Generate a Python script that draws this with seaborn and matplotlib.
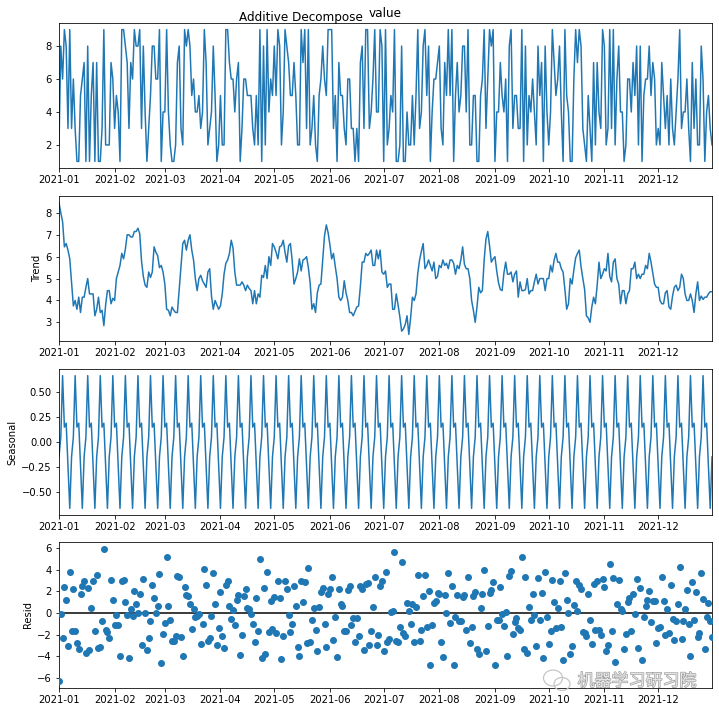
import matplotlib
matplotlib.use("Agg")
import matplotlib.pyplot as plt
import matplotlib.dates as mdates
import matplotlib.patheffects as pe
from matplotlib.patches import Ellipse
import pandas as pd
import seaborn as sns

observed = [
    2,8,6,9,8,3,9,3,6,3, 1,1,5,6,7,1,8,1,5,7, 1,7,1,1,3,9,2,2,2,7, 6,3,5,4,1,9,9,8,7,3,
    7,6,9,8,8,9,3,8,4,1, 3,5,8,8,6,6,9,1,4,4, 9,4,2,1,1,2,7,8,3,2, 9,8,9,8,5,6,4,4,5,3,
    4,9,7,2,3,4,8,5,1,2, 5,2,2,9,9,7,6,6,4,6, 7,1,3,6,6,5,5,5,3,2, 5,2,9,1,8,2,9,4,6,5,
    8,5,9,8,2,4,9,8,7,5, 5,7,5,2,2,9,7,9,3,9, 2,3,5,2,1,5,6,8,6,5, 9,9,9,3,5,1,7,5,5,3,
    2,6,6,3,3,1,3,1,7,8, 3,9,9,3,4,6,9,4,4,9, 8,1,9,2,3,5,4,9,1,1, 2,8,1,1,4,2,2,5,2,5,
    9,3,4,8,9,5,8,1,4,6, 6,7,8,3,2,7,5,9,5,9, 1,5,7,4,5,8,8,4,9,2, 2,5,5,1,1,5,6,9,3,6,
    9,8,9,1,4,4,7,5,4,6, 1,8,9,3,5,5,3,3,9,1, 8,2,5,4,6,4,2,8,5,7, 1,8,4,2,4,9,7,5,6,8,
    4,1,9,5,4,1,1,6,9,7, 9,8,3,2,1,5,3,1,7,2, 7,4,3,9,8,2,3,9,3,9, 2,6,8,4,4,1,2,6,6,4,
    7,5,8,2,8,1,5,6,6,8, 5,7,6,2,3,2,7,5,3,5, 2,6,3,2,4,6,9,3,4,4, 6,3,1,7,3,6,2,2,8,6,
    1,4,5,3,2,
]

trend = [
    8.47,8.0,7.6,6.45,6.6,6.3,5.9,4.8,3.75,4.0, 3.6,4.15,3.45,4.15,4.15,4.6,5.0,4.3,4.3,4.3,
    3.3,3.6,4.15,3.45,3.55,2.85,3.8,4.45,4.45,3.85, 4.1,4.0,5.0,5.3,5.6,6.15,5.9,6.35,7.0,7.0,
    6.9,6.9,7.15,7.15,7.3,7.05,5.8,5.1,4.7,4.6, 5.3,5.05,5.3,6.45,6.2,6.05,5.5,5.6,5.3,4.75,
    3.6,3.55,3.3,3.7,3.55,3.45,3.45,4.5,5.5,6.6, 6.75,6.3,6.75,7.0,6.3,5.85,5.0,4.45,5.0,5.15,
    4.9,4.75,4.6,5.3,5.45,4.2,3.6,4.0,3.8,3.6, 3.75,4.3,5.2,5.7,5.85,6.15,6.75,6.4,5.3,4.7,
    4.7,4.7,4.85,4.7,4.45,4.7,4.55,4.45,3.85,4.45, 3.85,4.3,4.15,5.15,5.05,5.6,5.0,6.0,5.6,6.6,
    6.45,6.2,5.9,6.45,6.5,6.75,6.2,5.75,6.5,6.6, 5.8,4.75,5.0,5.3,5.9,5.35,5.85,5.9,6.0,5.5,
    4.8,3.6,3.85,3.45,4.35,4.7,4.75,5.85,6.95,7.45, 7.1,6.55,5.9,6.15,5.55,5.0,4.15,4.0,4.15,4.9,
    4.35,4.0,3.45,3.45,3.3,3.5,3.7,3.75,4.65,5.75, 5.75,6.15,6.05,6.15,6.3,5.6,5.6,6.3,5.9,6.3,
    5.3,5.2,5.35,4.6,4.75,4.75,3.6,3.6,4.3,3.8, 3.25,2.6,2.7,2.9,3.3,2.45,3.2,4.15,4.0,4.3,
    5.25,5.85,6.25,6.6,5.45,5.6,5.85,5.6,5.35,5.75, 5.0,5.1,5.6,5.5,5.85,5.6,5.7,5.45,5.85,5.85,
    5.7,5.2,5.6,5.45,5.85,6.45,5.65,5.45,5.45,5.0, 4.0,3.55,3.0,3.7,4.6,4.35,4.45,5.85,6.8,7.15,
    6.5,5.75,5.9,6.0,5.35,4.8,4.5,4.45,5.25,5.75, 5.2,5.2,5.3,4.85,5.2,5.35,4.15,4.85,4.45,4.45,
    4.5,5.0,4.3,4.45,4.45,4.85,5.2,4.75,5.0,5.0, 5.0,4.45,5.0,5.0,5.6,5.3,5.85,6.15,5.75,5.75,
    5.45,5.3,4.5,3.6,3.85,5.0,4.75,5.4,5.95,6.15, 6.3,5.55,5.0,4.5,3.3,3.2,3.0,3.7,4.15,3.85,
    4.7,5.75,5.0,5.2,5.45,5.35,6.15,5.1,4.85,5.75, 5.9,5.0,4.75,3.85,4.45,4.45,3.85,4.3,4.45,5.45,
    5.45,5.75,5.0,5.2,5.0,5.2,5.2,5.6,5.45,6.15, 5.75,5.25,4.75,4.6,4.6,4.0,3.85,3.85,4.35,4.45,
    3.7,3.6,4.2,4.6,4.7,4.45,4.6,5.2,5.0,4.3, 4.0,4.0,4.3,4.0,3.45,4.3,4.85,4.0,4.2,4.05,
    4.15,4.15,4.3,4.4,4.4,
]

seasonal = [
    -.15,.05,.67,.15,.19,-.24,-.67, -.15,.05,.67,.15,.19,-.24,-.67, -.15,.05,.67,.15,.19,-.24,-.67,
    -.15,.05,.67,.15,.19,-.24,-.67, -.15,.05,.67,.15,.19,-.24,-.67, -.15,.05,.67,.15,.19,-.24,-.67,
    -.15,.05,.67,.15,.19,-.24,-.67, -.15,.05,.67,.15,.19,-.24,-.67, -.15,.05,.67,.15,.19,-.24,-.67,
    -.15,.05,.67,.15,.19,-.24,-.67, -.15,.05,.67,.15,.19,-.24,-.67, -.15,.05,.67,.15,.19,-.24,-.67,
    -.15,.05,.67,.15,.19,-.24,-.67, -.15,.05,.67,.15,.19,-.24,-.67, -.15,.05,.67,.15,.19,-.24,-.67,
    -.15,.05,.67,.15,.19,-.24,-.67, -.15,.05,.67,.15,.19,-.24,-.67, -.15,.05,.67,.15,.19,-.24,-.67,
    -.15,.05,.67,.15,.19,-.24,-.67, -.15,.05,.67,.15,.19,-.24,-.67, -.15,.05,.67,.15,.19,-.24,-.67,
    -.15,.05,.67,.15,.19,-.24,-.67, -.15,.05,.67,.15,.19,-.24,-.67, -.15,.05,.67,.15,.19,-.24,-.67,
    -.15,.05,.67,.15,.19,-.24,-.67, -.15,.05,.67,.15,.19,-.24,-.67, -.15,.05,.67,.15,.19,-.24,-.67,
    -.15,.05,.67,.15,.19,-.24,-.67, -.15,.05,.67,.15,.19,-.24,-.67, -.15,.05,.67,.15,.19,-.24,-.67,
    -.15,.05,.67,.15,.19,-.24,-.67, -.15,.05,.67,.15,.19,-.24,-.67, -.15,.05,.67,.15,.19,-.24,-.67,
    -.15,.05,.67,.15,.19,-.24,-.67, -.15,.05,.67,.15,.19,-.24,-.67, -.15,.05,.67,.15,.19,-.24,-.67,
    -.15,.05,.67,.15,.19,-.24,-.67, -.15,.05,.67,.15,.19,-.24,-.67, -.15,.05,.67,.15,.19,-.24,-.67,
    -.15,.05,.67,.15,.19,-.24,-.67, -.15,.05,.67,.15,.19,-.24,-.67, -.15,.05,.67,.15,.19,-.24,-.67,
    -.15,.05,.67,.15,.19,-.24,-.67, -.15,.05,.67,.15,.19,-.24,-.67, -.15,.05,.67,.15,.19,-.24,-.67,
    -.15,.05,.67,.15,.19,-.24,-.67, -.15,.05,.67,.15,.19,-.24,-.67, -.15,.05,.67,.15,.19,-.24,-.67,
    -.15,.05,.67,.15,.19,-.24,-.67, -.15,.05,.67,.15,.19,-.24,-.67, -.15,.05,.67,.15,.19,-.24,-.67,
    -.15,.05,.67,.15,.19,-.24,-.67,
    -.15,
]

resid = [
    -6.32,-.05,-2.27,2.4,1.21,-3.06,3.77,-1.65,2.2,-1.67, -2.75,-3.34,1.79,2.52,3.0,-3.65,2.33,-3.45,.51,2.94,
    -1.63,3.55,-3.2,-3.12,-.7,5.96,-1.56,-1.78,-2.3,3.1, 1.23,-1.15,-.19,-1.06,-3.93,3.0,3.05,.98,-.15,-4.19,
    .34,-.23,2.0,.8,.03,1.8,-2.99,3.14,-.03,-3.45, -2.35,-.72,2.55,1.36,.04,.62,3.65,-4.65,-1.97,-.9,
    5.21,.69,-.63,-2.55,-2.6,-2.12,3.4,3.31,-2.26,-3.93, 2.4,1.65,1.58,.85,-1.49,.39,-.33,-.3,-.05,-2.82,
    -1.05,4.06,2.64,-2.63,-2.3,-.25,3.73,.85,-2.99,-1.36, 1.92,-2.15,-3.25,2.63,3.0,.66,-.51,.27,-1.15,1.25,
    1.63,-3.85,-2.04,1.54,2.22,.45,.4,-.12,-1.0,-2.64, 1.39,-1.63,5.0,-4.2,2.28,-3.75,3.81,-1.76,1.07,-1.45,
    1.5,-1.87,2.95,1.36,-4.26,-2.08,2.95,2.2,-.17,-1.75, -.99,2.49,.67,-3.15,-3.95,2.98,1.0,2.91,-2.76,4.17,
    -2.65,-.65,.48,-1.6,-3.54,.54,1.92,2.3,-1.0,-3.12, 1.75,2.26,3.34,-2.48,-.4,-4.05,2.18,.85,.66,-1.66,
    -1.68,2.15,2.5,-1.12,-.45,-2.69,-.46,-2.08,2.5,2.2, -3.42,2.7,2.76,-2.91,-1.63,.55,3.35,-2.97,-2.05,2.51,
    2.94,-3.53,3.8,-2.65,-2.42,.1,.21,5.64,-2.63,-2.65, -1.3,4.73,-1.85,-2.09,.94,.22,-1.05,.8,-2.67,.55,
    3.56,-2.61,-1.58,1.55,3.5,-1.27,2.0,-4.79,-1.11,.92, 1.15,1.85,1.73,-2.65,-4.04,1.64,-.03,3.7,-.9,2.48,
    -4.85,-.39,1.64,-.78,-.7,1.5,1.68,-1.6,3.36,-2.76, -1.33,1.6,1.95,-3.37,-3.75,.46,1.79,4.0,-3.47,-1.2,
    1.83,2.1,2.91,-4.76,-.68,-.65,2.45,-.12,-1.2,.06, -3.96,3.47,3.85,-1.9,-.87,-.5,-1.34,-1.61,5.2,-3.3,
    3.35,-3.67,.55,-.64,1.79,-.18,-3.05,3.2,-.67,1.85, -4.19,3.79,-.33,-2.85,-1.65,3.03,1.0,-1.34,.49,2.92,
    -1.3,-4.35,3.75,1.25,-.04,-3.76,-3.08,.75,3.0,.18, 2.55,2.26,-1.76,-1.83,-2.15,1.75,-.67,-2.85,2.66,-1.61,
    2.97,-1.6,-2.05,3.13,2.4,-3.54,-2.91,4.57,-1.7,3.2, -4.57,.85,3.06,.39,.22,-3.3,-1.9,1.03,1.4,-1.64,
    1.79,-.08,3.15,-3.25,2.33,-4.35,-.39,.64,1.22,2.0, -.8,1.08,1.1,-2.79,-1.36,-1.33,3.3,1.1,-2.02,.4,
    -1.89,2.64,-.53,-2.45,-.75,.88,4.25,-2.39,-.76,.37, 2.15,-1.05,-3.97,2.85,-.64,1.94,-2.18,-1.85,3.75,1.28,
    -3.3,-.34,.94,-.73,-2.25,
]

y_labels = ["", "Trend", "Seasonal", "Resid"]
start_date = "2021-01-01"
end_date = "2021-12-31"

W, H = 719, 712
fig = plt.figure(figsize=(W / 72, H / 72), dpi=72)

panels = [(23, 168), (196, 341), (369, 515), (542, 688)]
axes = [fig.add_axes([59 / W, 1 - b / H, (712 - 59) / W, (b - t) / H]) for t, b in panels]

dates = pd.date_range(start_date, end_date, freq="D")
lengths = (len(observed), len(trend), len(seasonal), len(resid))
if set(lengths) != {365}:
    raise SystemExit(f"lengths {lengths}")
df = pd.DataFrame({"date": dates, "value": observed, "Trend": trend,
                   "Seasonal": seasonal, "Resid": resid})

sns.lineplot(data=df, x="date", y="value", ax=axes[0], color="#1f77b4", linewidth=1.5,
             estimator=None, errorbar=None)
sns.lineplot(data=df, x="date", y="Trend", ax=axes[1], color="#1f77b4", linewidth=1.5,
             estimator=None, errorbar=None)
sns.lineplot(data=df, x="date", y="Seasonal", ax=axes[2], color="#1f77b4", linewidth=1.5,
             estimator=None, errorbar=None)
sns.scatterplot(data=df, x="date", y="Resid", ax=axes[3], color="#1f77b4", s=49, linewidth=0,
                zorder=3)
axes[3].axhline(0, color="#000000", linewidth=1.5, zorder=2)

for ax, lab in zip(axes, y_labels):
    ax.set_xlim(dates[0], dates[-1])
    ax.xaxis.set_major_locator(mdates.MonthLocator())
    ax.xaxis.set_major_formatter(mdates.DateFormatter("%Y-%m"))
    ax.set_xlabel("")
    ax.set_ylabel(lab)

axes[0].set_title("value", fontsize=12)
fig.text(301 / W, 1 - 17 / H, "Additive Decompose", ha="center", va="center", fontsize=12)

# watermark
wm = fig.text(637 / W, 1 - 681 / H, "机器学习研习院", ha="center", va="center", fontsize=17,
              family=["Noto Sans CJK SC", "DejaVu Sans"], color="#e4e4e4", zorder=10)
wm.set_path_effects([pe.withStroke(linewidth=1.2, foreground="#9a9a9a")])
for cx, cy, w, h in [(553, 678, 19, 16), (562, 684, 16, 13)]:
    fig.add_artist(Ellipse((cx / W, 1 - cy / H), w / W, h / H, transform=fig.transFigure,
                           facecolor="none", edgecolor="#c4c4c4", linewidth=1.2, zorder=10))

fig.savefig("out.png", dpi=72)
